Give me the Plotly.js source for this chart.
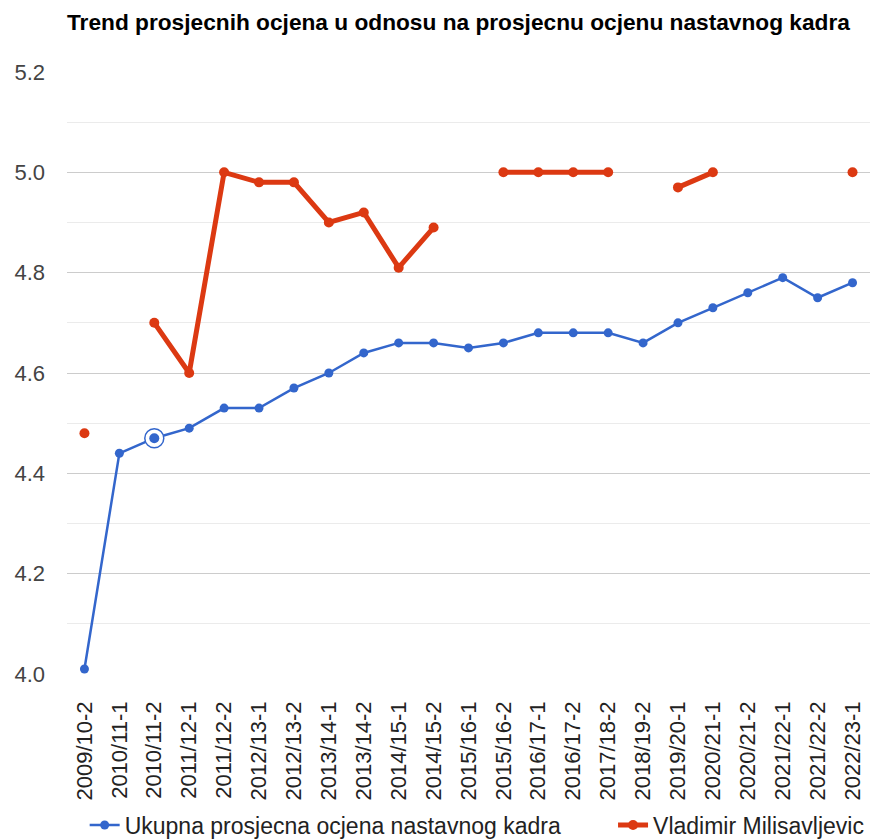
<!DOCTYPE html>
<html>
<head>
<meta charset="utf-8">
<script src="https://cdn.plot.ly/plotly-3.0.1.min.js"></script>
<style>html,body{margin:0;padding:0;background:#fff;}#chart{width:870px;height:839px;}</style>
</head>
<body>
<div id="chart"></div>
<script>
const categories = ["2009/10-2","2010/11-1","2010/11-2","2011/12-1","2011/12-2","2012/13-1","2012/13-2","2013/14-1","2013/14-2","2014/15-1","2014/15-2","2015/16-1","2015/16-2","2016/17-1","2016/17-2","2017/18-2","2018/19-2","2019/20-1","2020/21-1","2020/21-2","2021/22-1","2021/22-2","2022/23-1"];
const ukupna = [4.01,4.44,4.47,4.49,4.53,4.53,4.57,4.60,4.64,4.66,4.66,4.65,4.66,4.68,4.68,4.68,4.66,4.70,4.73,4.76,4.79,4.75,4.78];
const vladimir = [4.48,null,4.70,4.60,5.00,4.98,4.98,4.90,4.92,4.81,4.89,null,5.00,5.00,5.00,5.00,null,4.97,5.00,null,null,null,5.00];
const highlightIndex = 2;
const seriesNames = ["Ukupna prosjecna ocjena nastavnog kadra","Vladimir Milisavljevic"];
const titleText = "Trend prosjecnih ocjena u odnosu na prosjecnu ocjenu nastavnog kadra";

const BLUE = "#3366cc", RED = "#dc3912";
const FONT = "Arial, 'Liberation Sans', sans-serif";

const traces = [
  {x: categories, y: ukupna, name: seriesNames[0], type: "scatter", mode: "lines+markers",
   legend: "legend",
   line: {color: BLUE, width: 2.5}, marker: {color: BLUE, size: 9}, hoverinfo: "skip"},
  {x: categories, y: vladimir, name: seriesNames[1], type: "scatter", mode: "lines+markers",
   legend: "legend2", connectgaps: false,
   line: {color: RED, width: 5}, marker: {color: RED, size: 10}, hoverinfo: "skip"},
  {x: [categories[highlightIndex]], y: [ukupna[highlightIndex]], type: "scatter", mode: "markers",
   showlegend: false, hoverinfo: "skip",
   marker: {color: "#ffffff", size: 19, line: {color: BLUE, width: 1.5}}},
  {x: [categories[highlightIndex]], y: [ukupna[highlightIndex]], type: "scatter", mode: "markers",
   showlegend: false, hoverinfo: "skip",
   marker: {color: BLUE, size: 10}}
];

const legendFont = {family: FONT, size: 23, color: "#222"};
const layout = {
  width: 870, height: 839,
  margin: {l: 67, r: 0, t: 72, b: 165},
  paper_bgcolor: "#fff", plot_bgcolor: "#fff",
  font: {family: FONT, size: 22, color: "#222"},
  title: {text: "<b>" + titleText + "</b>", x: 0, xref: "paper", xanchor: "left",
          y: 1 - 22/839, yref: "container", yanchor: "middle",
          font: {family: FONT, size: 22.7, color: "#000"}},
  xaxis: {type: "category", range: [-0.5, categories.length - 0.5], tickangle: -90,
          showgrid: false, zeroline: false, showline: false, ticks: "",
          ticklabelstandoff: 22,
          tickfont: {family: FONT, size: 22, color: "#222"}, fixedrange: true},
  yaxis: {range: [4.0, 5.2], dtick: 0.2, tick0: 4.0, tickformat: ".1f",
          showgrid: true, gridcolor: "#cccccc", gridwidth: 1, zeroline: false,
          showline: false, ticks: "", ticklabelstandoff: 21,
          tickfont: {family: FONT, size: 22, color: "#444"},
          minor: {dtick: 0.1, showgrid: true, gridcolor: "#ebebeb", gridwidth: 1},
          fixedrange: true},
  showlegend: true,
  legend: {orientation: "h", x: 0.022, xanchor: "left", y: 1 - 825/839, yref: "container",
           yanchor: "middle", font: legendFont, itemclick: false, bgcolor: "rgba(0,0,0,0)"},
  legend2: {orientation: "h", x: 0.68, xanchor: "left", y: 1 - 825/839, yref: "container",
           yanchor: "middle", font: legendFont, itemclick: false, bgcolor: "rgba(0,0,0,0)"},
  hovermode: false
};

Plotly.newPlot("chart", traces, layout, {staticPlot: true, displayModeBar: false});
</script>
</body>
</html>
